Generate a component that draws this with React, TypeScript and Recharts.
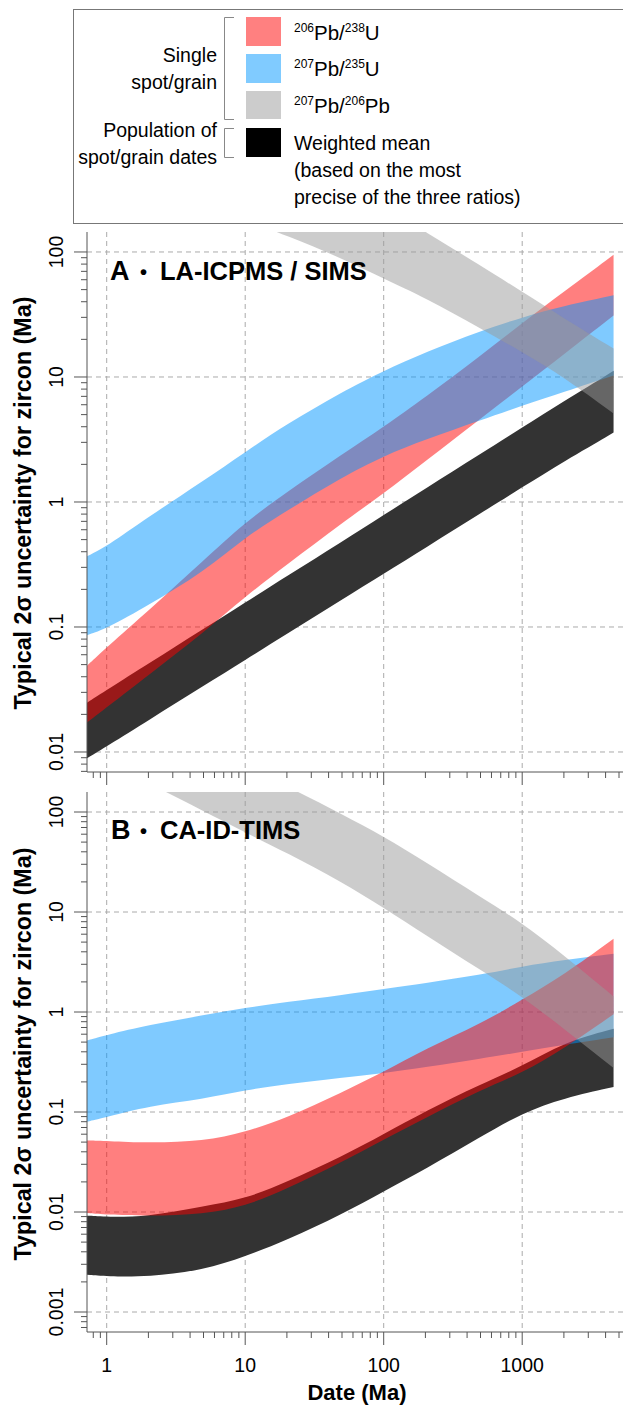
import React from "react";
import { Area, CartesianGrid, ComposedChart, XAxis, YAxis } from "recharts";

const dates = [0.72, 1, 2, 5, 10, 20, 50, 100, 200, 500, 1000, 2000, 4567];

// panel A, LA-ICPMS / SIMS: [low, high] 2σ uncertainty (Ma)
const laU238 = [[0.0172, 0.049], [0.0228, 0.069], [0.0412, 0.135], [0.0903, 0.339], [0.175, 0.69], [0.315, 1.2], [0.68, 2.4], [1.17, 4.0], [2.12, 6.9], [4.64, 14.8], [8.4, 27], [15.2, 48], [31, 95]];
const laU235 = [[0.086, 0.368], [0.097, 0.44], [0.15, 0.76], [0.275, 1.48], [0.525, 2.51], [0.85, 4.2], [1.58, 7.6], [2.34, 11.2], [3.16, 15.8], [4.5, 23.4], [5.9, 30], [7.6, 37], [10.3, 45]];
const laPbPb = [[430, 6600], [380, 5200], [316, 3240], [250, 1740], [180, 1100], [135, 680], [89, 365], [61, 230], [43, 145], [24.5, 78], [15.8, 48], [10, 29.5], [5.1, 16.9]];
const laMean = [[0.0089, 0.0248], [0.0111, 0.0313], [0.0179, 0.0508], [0.0338, 0.0964], [0.0545, 0.157], [0.0879, 0.255], [0.166, 0.483], [0.267, 0.785], [0.43, 1.28], [0.81, 2.42], [1.31, 3.94], [2.11, 6.4], [3.59, 11.2]];

// panel B, CA-ID-TIMS
const tiU238 = [[0.0098, 0.052], [0.0094, 0.0514], [0.0091, 0.049], [0.0095, 0.051], [0.0114, 0.063], [0.017, 0.087], [0.0316, 0.158], [0.053, 0.25], [0.087, 0.43], [0.166, 0.76], [0.245, 1.33], [0.43, 2.35], [0.95, 5.4]];
const tiU235 = [[0.08, 0.52], [0.089, 0.59], [0.115, 0.74], [0.135, 0.93], [0.166, 1.1], [0.19, 1.26], [0.22, 1.48], [0.245, 1.7], [0.28, 1.95], [0.34, 2.35], [0.4, 2.86], [0.47, 3.3], [0.56, 3.83]];
const tiPbPb = [[390, 1350], [316, 1120], [195, 760], [102, 440], [62.5, 280], [39, 182], [20, 95], [11, 57], [5.9, 31.6], [2.63, 14.1], [1.43, 7.8], [0.68, 3.7], [0.275, 1.43]];
const tiMean = [[0.00236, 0.0092], [0.00227, 0.0089], [0.00224, 0.009], [0.00263, 0.0114], [0.0036, 0.0135], [0.00525, 0.02], [0.0095, 0.036], [0.0161, 0.06], [0.0269, 0.102], [0.0562, 0.19], [0.098, 0.286], [0.138, 0.5], [0.178, 0.68]];

// tick labels
const xMajor = [1, 10, 100, 1000];
const yMajorA = [0.01, 0.1, 1, 10, 100];
const yMajorB = [0.001, 0.01, 0.1, 1, 10, 100];

const xDomain = [0.7207, 5343];
const yDomainA = [0.006918, 144.5];
const yDomainB = [0.000631, 158.5];

const AXIS = "#555";
const GRID = "#aaa";
const FONT = "'Liberation Sans', Arial, Helvetica, sans-serif";

const steps = [1, 2, 3, 4, 5, 6, 7, 8, 9];
const withMinor = (majors: number[], lo: number, hi: number) =>
  [majors[0] / 10, ...majors]
    .flatMap((d) => steps.map((k) => k * d))
    .filter((v) => v >= lo && v <= hi);

const xTicks = withMinor(xMajor, xDomain[0], xDomain[1]);
const yTicksA = withMinor(yMajorA, yDomainA[0], yDomainA[1]);
const yTicksB = withMinor(yMajorB, yDomainB[0], yDomainB[1]);

const rowsA = dates.map((date, i) => ({
  date,
  u238: laU238[i],
  u235: laU235[i],
  pbpb: laPbPb[i],
  mean: laMean[i],
}));
const rowsB = dates.map((date, i) => ({
  date,
  u238: tiU238[i],
  u235: tiU235[i],
  pbpb: tiPbPb[i],
  mean: tiMean[i],
}));

const BANDS: Record<string, { fill: string; opacity: number }> = {
  mean: { fill: "#333333", opacity: 1 },
  u238: { fill: "#ff0000", opacity: 0.5 },
  u235: { fill: "#0096ff", opacity: 0.5 },
  pbpb: { fill: "#999999", opacity: 0.5 },
};

const near = (list: number[], v: number) => list.some((m) => Math.abs(m - v) / m < 1e-6);

function XTick(props: any) {
  const { x, y, payload, showLabel } = props;
  const major = near(xMajor, payload.value);
  return (
    <g>
      <line x1={x} x2={x} y1={y} y2={y + (major ? 13 : 6)} stroke={AXIS} />
      {showLabel && major && (
        <text x={x} y={y + 40} textAnchor="middle" fontSize={19.5} fontFamily={FONT} fill="#000">
          {String(payload.value)}
        </text>
      )}
    </g>
  );
}

function YTick(props: any) {
  const { x, y, payload, majors } = props;
  const major = near(majors, payload.value);
  const lx = x - 24;
  return (
    <g>
      <line x1={x - (major ? 13 : 6)} x2={x} y1={y} y2={y} stroke={AXIS} />
      {major && (
        <text
          x={lx}
          y={y}
          transform={`rotate(-90 ${lx} ${y})`}
          textAnchor="middle"
          fontSize={19.5}
          fontFamily={FONT}
          fill="#000"
        >
          {String(payload.value)}
        </text>
      )}
    </g>
  );
}

function Panel({ rows, top, height, marginTop, xAxisHeight, yDomain, yTicks, yMajor, order, xLabels }: any) {
  return (
    <div style={{ position: "absolute", left: 0, top }}>
      <ComposedChart
        width={623}
        height={height}
        data={rows}
        margin={{ top: marginTop, right: 0, bottom: 0, left: 0 }}
      >
        <CartesianGrid stroke={GRID} strokeDasharray="5 4" horizontalValues={yMajor} verticalValues={xMajor} />
        <XAxis
          dataKey="date"
          type="number"
          scale="log"
          domain={xDomain}
          allowDataOverflow
          ticks={xTicks}
          interval={0}
          height={xAxisHeight}
          tickSize={0}
          tickMargin={0}
          tickLine={false}
          axisLine={{ stroke: AXIS }}
          tick={(p: any) => <XTick {...p} showLabel={xLabels} />}
        />
        <XAxis
          xAxisId="top"
          orientation="top"
          dataKey="date"
          type="number"
          scale="log"
          domain={xDomain}
          allowDataOverflow
          height={0}
          tick={false}
          tickLine={false}
          axisLine={{ stroke: AXIS }}
        />
        <YAxis
          type="number"
          scale="log"
          domain={yDomain}
          allowDataOverflow
          ticks={yTicks}
          interval={0}
          width={87}
          tickSize={0}
          tickMargin={0}
          tickLine={false}
          axisLine={{ stroke: AXIS }}
          tick={(p: any) => <YTick {...p} majors={yMajor} />}
        />
        {order.map((key: string) => (
          <Area
            key={key}
            dataKey={key}
            type="basis"
            stroke="none"
            fill={BANDS[key].fill}
            fillOpacity={BANDS[key].opacity}
            dot={false}
            activeDot={false}
            isAnimationActive={false}
          />
        ))}
      </ComposedChart>
    </div>
  );
}

function Ratio({ x, y, a, b, c, d }: any) {
  return (
    <text x={x} y={y} fontSize={20.5} fontFamily={FONT} fill="#000">
      <tspan fontSize={12} dy={-8}>{a}</tspan>
      <tspan dy={8}>{b}</tspan>
      <tspan fontSize={12} dy={-8}>{c}</tspan>
      <tspan dy={8}>{d}</tspan>
    </text>
  );
}

function Overlay() {
  const yTitle = "Typical 2σ uncertainty for zircon (Ma)";
  return (
    <svg
      width={623}
      height={1405}
      style={{ position: "absolute", left: 0, top: 0, pointerEvents: "none" }}
      fontFamily={FONT}
    >
      {/* legend */}
      <rect x={73.5} y={9.5} width={600} height={214} fill="none" stroke="#777" />
      <path d="M234 17.5 H224.5 V119.5 H234" fill="none" stroke="#888" />
      <path d="M234 128.5 H224.5 V157.5 H234" fill="none" stroke="#888" />
      <rect x={246} y={17} width={35} height={29} fill="#ff8080" />
      <rect x={246} y={54} width={35} height={29} fill="#80cbff" />
      <rect x={246} y={91} width={35} height={28} fill="#cccccc" />
      <rect x={246} y={128} width={35} height={29} fill="#000" />
      <g fontSize={19.5} fill="#000" textAnchor="end">
        <text x={217} y={62}>Single</text>
        <text x={217} y={89}>spot/grain</text>
        <text x={217} y={137}>Population of</text>
        <text x={217} y={164}>spot/grain dates</text>
      </g>
      <Ratio x={294} y={40} a="206" b="Pb/" c="238" d="U" />
      <Ratio x={294} y={76} a="207" b="Pb/" c="235" d="U" />
      <Ratio x={294} y={113} a="207" b="Pb/" c="206" d="Pb" />
      <g fontSize={19.5} fill="#000">
        <text x={294} y={150}>Weighted mean</text>
        <text x={294} y={177}>(based on the most</text>
        <text x={294} y={204}>precise of the three ratios)</text>
      </g>

      {/* panel titles */}
      <g fontWeight="bold" fill="#000">
        <text x={110} y={280} fontSize={27}>A</text>
        <text x={143.5} y={279} fontSize={20} textAnchor="middle">•</text>
        <text x={160} y={280} fontSize={25.5}>LA-ICPMS / SIMS</text>
        <text x={111} y={839} fontSize={27}>B</text>
        <text x={143.5} y={838} fontSize={20} textAnchor="middle">•</text>
        <text x={160} y={839} fontSize={25.5}>CA-ID-TIMS</text>
      </g>

      {/* axis titles */}
      <g fontWeight="bold" fontSize={23.3} fill="#000" textAnchor="middle">
        <text x={31} y={503} transform="rotate(-90 31 503)">{yTitle}</text>
        <text x={31} y={1054} transform="rotate(-90 31 1054)">{yTitle}</text>
        <text x={357} y={1400} fontSize={22}>Date (Ma)</text>
      </g>
    </svg>
  );
}

export default function App() {
  return (
    <div
      style={{
        position: "absolute",
        left: 0,
        top: 0,
        width: 623,
        height: 1405,
        overflow: "hidden",
        background: "#fff",
        fontFamily: FONT,
      }}
    >
      <Panel
        rows={rowsA}
        top={0}
        height={790}
        marginTop={232}
        xAxisHeight={18}
        yDomain={yDomainA}
        yTicks={yTicksA}
        yMajor={yMajorA}
        order={["mean", "u238", "u235", "pbpb"]}
        xLabels={false}
      />
      <Panel
        rows={rowsB}
        top={780}
        height={625}
        marginTop={12}
        xAxisHeight={73}
        yDomain={yDomainB}
        yTicks={yTicksB}
        yMajor={yMajorB}
        order={["mean", "u235", "u238", "pbpb"]}
        xLabels={true}
      />
      <Overlay />
    </div>
  );
}
